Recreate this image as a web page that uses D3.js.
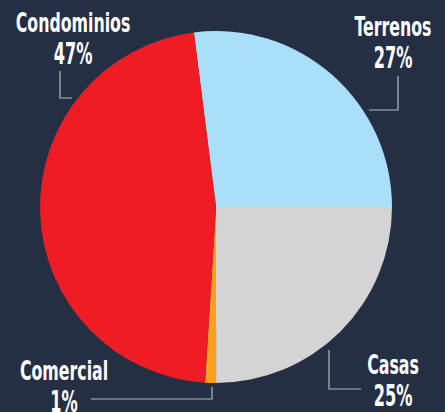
<!DOCTYPE html>
<html>
<head>
<meta charset="utf-8">
<script src="https://cdn.jsdelivr.net/npm/d3@7"></script>
<style>
  html, body { margin: 0; padding: 0; background: #252f44; }
  svg { display: block; }
  text { font-family: "Liberation Sans Narrow", "DejaVu Sans Condensed", sans-serif; font-weight: bold; fill: #fff; }
</style>
</head>
<body>
<div id="vis"></div>
<script>
const categories = ["Terrenos", "Casas", "Comercial", "Condominios"];
const values = [27, 25, 1, 47];
const colors = ["#a9dff9", "#d4d4d4", "#f8a11e", "#ee1c25"];

// label placement (text anchor + leader line), per category
const labelLayout = {
  Terrenos:    { x: 393, y: 36, line: [[398, 76], [398, 110], [369, 110]] },
  Casas:       { x: 393, y: 374, line: [[329, 350], [329, 389], [361, 389]] },
  Comercial:   { x: 64, y: 380, line: [[212, 387], [212, 399], [91, 399]] },
  Condominios: { x: 73, y: 32, line: [[60, 71], [60, 98], [72, 98]] }
};

const width = 445, height = 412;
const cx = 216, cy = 207, radius = 176;

const svg = d3.select("#vis")
  .append("svg")
  .attr("width", width)
  .attr("height", height);

const data = categories.map((c, i) => ({ name: c, value: values[i], color: colors[i] }));

const pie = d3.pie()
  .value(d => d.value)
  .sort(null)
  .startAngle(-0.126)
  .endAngle(2 * Math.PI - 0.126);

const arc = d3.arc().innerRadius(0).outerRadius(radius);

const g = svg.append("g").attr("transform", `translate(${cx}, ${cy})`);

g.selectAll("path")
  .data(pie(data))
  .enter()
  .append("path")
  .attr("d", arc)
  .attr("fill", d => d.data.color);

const line = d3.line();

svg.selectAll("path.leader")
  .data(data)
  .enter()
  .append("path")
  .attr("class", "leader")
  .attr("d", d => line(labelLayout[d.name].line))
  .attr("fill", "none")
  .attr("stroke", "#b4b8c2")
  .attr("stroke-width", 1.2);

const labels = svg.selectAll("g.label")
  .data(data)
  .enter()
  .append("g")
  .attr("class", "label")
  .attr("transform", d => `translate(${labelLayout[d.name].x}, ${labelLayout[d.name].y})`);

labels.append("text")
  .attr("text-anchor", "middle")
  .attr("transform", "scale(0.65, 1)")
  .attr("font-size", 27)
  .text(d => d.name);

labels.append("text")
  .attr("text-anchor", "middle")
  .attr("transform", "translate(0, 32) scale(0.6, 1)")
  .attr("font-size", 30)
  .text(d => d.value + "%");
</script>
</body>
</html>
